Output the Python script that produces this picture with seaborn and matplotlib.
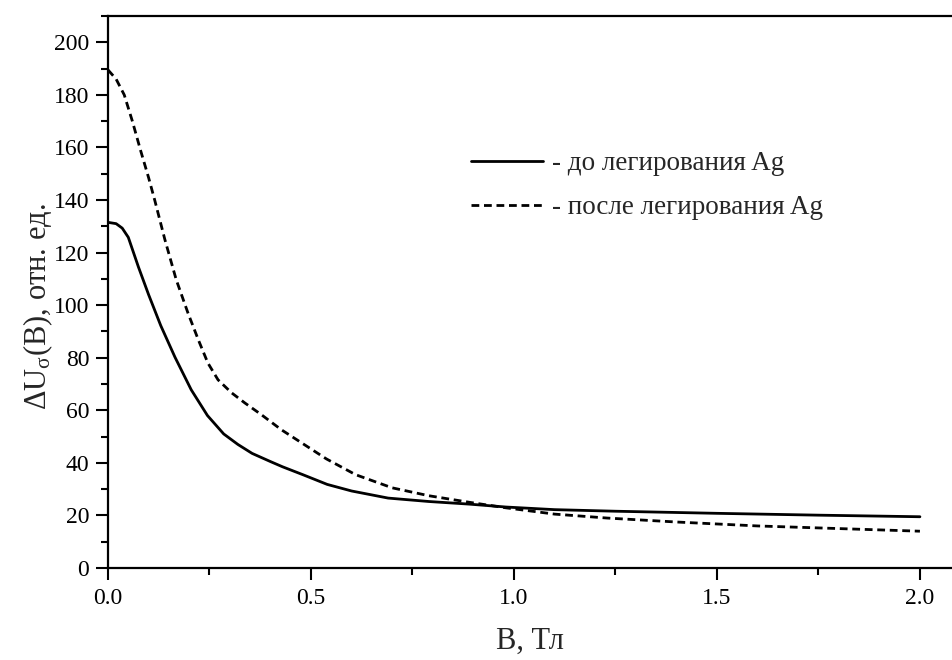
import numpy as np
import pandas as pd
import matplotlib
matplotlib.use("Agg")
import matplotlib.pyplot as plt
from matplotlib.ticker import MultipleLocator
import seaborn as sns

# Magnetic field B (T) and signal ΔU_σ (arb. units) before Ag doping
b_before = [0.000, 0.020, 0.035, 0.050, 0.075, 0.100, 0.130, 0.165, 0.205, 0.245,
            0.285, 0.320, 0.355, 0.400, 0.430, 0.480, 0.540, 0.600, 0.690, 0.790,
            0.890, 0.980, 1.100, 1.250, 1.500, 1.750, 2.000]
u_before = [131.5, 131.0, 129.3, 125.8, 114.5, 104.0, 92.2, 80.2, 67.8, 58.0,
            51.0, 47.0, 43.6, 40.5, 38.5, 35.5, 31.8, 29.3, 26.6, 25.3,
            24.3, 23.2, 22.2, 21.6, 20.8, 20.1, 19.5]

# ... and after Ag doping
b_after = [0.000, 0.020, 0.040, 0.060, 0.080, 0.100, 0.115, 0.140, 0.168, 0.197,
           0.222, 0.246, 0.271, 0.304, 0.337, 0.378, 0.427, 0.484, 0.538, 0.610,
           0.700, 0.790, 0.890, 0.980, 1.100, 1.230, 1.400, 1.600, 1.800, 2.000]
u_after = [189.5, 186.0, 180.0, 170.0, 159.0, 148.5, 140.0, 125.0, 109.7, 97.0,
           87.0, 78.0, 71.6, 66.7, 62.8, 58.3, 52.6, 46.9, 41.5, 35.5,
           30.5, 27.5, 25.0, 22.9, 20.5, 19.0, 17.5, 16.0, 15.0, 14.0]

series_names = ["- до легирования Ag", "- после легирования Ag"]

x_ticks = [0.0, 0.5, 1.0, 1.5, 2.0]
y_ticks = [0, 20, 40, 60, 80, 100, 120, 140, 160, 180, 200]

df = pd.concat([
    pd.DataFrame({"B": b_before, "U": u_before, "series": series_names[0]}),
    pd.DataFrame({"B": b_after, "U": u_after, "series": series_names[1]}),
], ignore_index=True)

sns.set_style("ticks")
plt.rcParams["font.family"] = ["Liberation Serif", "DejaVu Serif"]
plt.rcParams["mathtext.fontset"] = "custom"
plt.rcParams["mathtext.rm"] = "Liberation Serif"
plt.rcParams["mathtext.it"] = "Liberation Serif:italic"

fig = plt.figure(figsize=(9.52, 6.6), dpi=100)
ax = fig.add_axes([108 / 952, 92 / 660, 1 - 108 / 952, 552 / 660])

sns.lineplot(data=df, x="B", y="U", style="series", sort=False,
             dashes={series_names[0]: "", series_names[1]: (2.8, 1.7)},
             color="black", linewidth=2.0, ax=ax, legend=True)

ax.set_xlim(0, 2.079)
ax.set_ylim(0, 210)
ax.set_xticks(x_ticks)
ax.set_xticklabels([f"{t:.1f}" for t in x_ticks])
ax.set_yticks(y_ticks)
ax.xaxis.set_minor_locator(MultipleLocator(0.25))
ax.yaxis.set_minor_locator(MultipleLocator(10))

ax.tick_params(which="major", direction="out", length=8.5, width=1.5,
               labelsize=17, color="black", labelcolor="black")
ax.tick_params(axis="x", which="major", pad=6)
ax.tick_params(axis="y", which="major", pad=5)
ax.tick_params(which="minor", direction="out", length=5, width=1.5, color="black")
ax.tick_params(axis="x", which="both", top=False)
ax.tick_params(axis="y", which="both", right=False)

for side in ["left", "bottom", "top"]:
    ax.spines[side].set_visible(True)
    ax.spines[side].set_linewidth(1.6)
    ax.spines[side].set_color("black")
ax.spines["right"].set_visible(False)

ax.set_xlabel("B, Тл", fontsize=22, labelpad=13)
ax.set_ylabel("ΔU$_{\\mathrm{σ}}$(B), отн. ед.", fontsize=22)
ax.yaxis.set_label_coords(-(108 - 38) / 844, 1 - (307 - 16) / 552)
ax.yaxis.label.set_verticalalignment("center")

handles, labels = ax.get_legend_handles_labels()
leg = fig.legend(handles, labels, loc="upper left",
                 bbox_to_anchor=(471 / 952, 1 - 151 / 660),
                 frameon=False, fontsize=19.5, handlelength=2.65,
                 handletextpad=0.33, labelspacing=0.72,
                 borderpad=0, borderaxespad=0)
if ax.get_legend() is not None:
    ax.get_legend().remove()
for line in leg.get_lines():
    line.set_linewidth(2.0)

fig.savefig("out.png", dpi=100)
